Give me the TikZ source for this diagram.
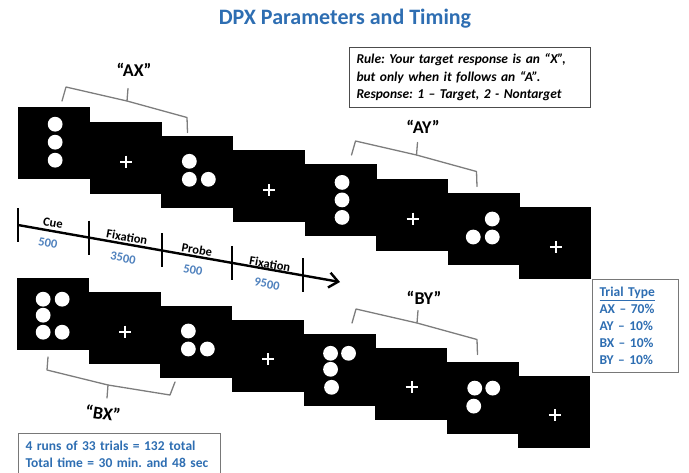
\documentclass[tikz,border=0pt]{standalone}
\usepackage{fontspec}
\setmainfont{Carlito}
\usetikzlibrary{calc,arrows.meta}
\definecolor{tblue}{RGB}{46,110,178}
\definecolor{nblue}{RGB}{79,129,189}
\definecolor{bgray}{RGB}{125,125,125}
\definecolor{boxgray}{RGB}{120,120,120}
\newcommand\fs[2]{\fontsize{#1}{#2}\selectfont}
\newcommand\dotsat[2]{\foreach \a/\b in {#2}{\fill[white] ($(#1.center)+(\a,\b)$) circle[radius=7.4pt];}}
\begin{document}
\frenchspacing
\begin{tikzpicture}[x=1pt,y=-1pt,
  sq/.style={fill=black,draw=none,minimum width=71.9pt,minimum height=72pt,inner sep=0pt,anchor=north west},
  plus/.style={draw=white,line width=2pt},
  brk/.style={draw=bgray,line width=1.3pt,line join=round,line cap=round},
  tl/.style={line width=2.4pt},
  lab/.style={font=\bfseries\fs{12.5}{14},rotate=-10,inner sep=0pt},
  num/.style={lab,text=nblue},
  big/.style={font=\bfseries\fs{18}{20},inner sep=0pt},
  infobox/.style={draw=boxgray,line width=1pt,anchor=north west,align=left,inner xsep=7pt},
  bracketup/.pic={\draw[brk] (-65,0) -- (-61,-14) -- (0,0) -- (60,16.5) -- (60.5,31.5);
                  \draw[brk] (0,0) -- (1,-12.5);},
  bracketdown/.pic={\draw[brk] (-60,-28) -- (-61,-15) -- (0,0) -- (62,10) -- (67,-3);
                  \draw[brk] (0,0) -- (-1,13);}
]
\useasboundingbox (0,0) rectangle (689,472);
\clip (0,0) rectangle (689,472);

% title
\node[font=\bfseries\fs{22}{25},text=tblue,inner sep=0pt] (title) at (345,19) {DPX Parameters and Timing};

% squares
\foreach \i in {1,...,8}{
  \node[sq] (t\i) at ({18+71.6*(\i-1)},{107+14.3*(\i-1)}) {};
  \node[sq] (b\i) at ({17+71.6*(\i-1)},{278+13.9*(\i-1)}) {};
}
\dotsat{t1}{1/-19,1/-1,1/17}
\dotsat{t3}{-8/-10.5,-8/7.5,11/7.5}
\dotsat{t5}{1.5/-18,1.5/-0.5,1.5/17}
\dotsat{t7}{8.5/-10,-10.5/8,8.5/8}
\dotsat{b1}{-10/-15,9/-15,-10/1,-10/18,9/18}
\dotsat{b3}{-8/-11,-8/7,11/7}
\dotsat{b5}{-9/-16.5,9/-16.5,-9/-0.5,-8/17.5}
\dotsat{b7}{-8/-9.5,10/-9.5,-9/8.5}
\foreach \i in {2,4,6,8}{
  \draw[plus] ($(t\i.center)+(-5.5,4)$) -- ++(12,0);
  \draw[plus] ($(t\i.center)+(0.5,-2)$) -- ++(0,12);
  \draw[plus] ($(b\i.center)+(-5.5,3.5)$) -- ++(12,0);
  \draw[plus] ($(b\i.center)+(0.5,-2.5)$) -- ++(0,12);
}

% brackets and labels
\pic at (127,101) {bracketup};
\pic at (416.5,155) {bracketup};
\pic at (417,323) {bracketup};
\pic at (108,385) {bracketdown};
\node[big] (ax) at (134,70) {“AX”};
\node[big] (ay) at (423,127) {“AY”};
\node[big] (by) at (424,298) {“BY”};
\node[big,rotate=-8] (bx) at (103,413) {“BX”};

% timeline
\coordinate (ts) at (18,225);
\coordinate (te) at (340,282);
\draw[tl,-{Straight Barb[length=9pt,width=15pt]}] (ts) -- (te);
\foreach \f/\n in {0/k0,0.2205/k1,0.447/k2,0.6646/k3,0.885/k4}{
  \coordinate (\n) at ($(ts)!\f!(te)$);
  \draw[tl] (\n) ++(0,-17) -- ++(0,34);
}
\node[lab] (l1) at (53,223) {Cue};
\node[num] (n1) at (48,243) {500};
\node[lab] (l2) at (127,237) {Fixation};
\node[num] (n2) at (123,258) {3500};
\node[lab] (l3) at (197,250) {Probe};
\node[num] (n3) at (193,270) {500};
\node[lab] (l4) at (270,264) {Fixation};
\node[num] (n4) at (267,284) {9500};

% boxes
\node[infobox,draw=black!70,minimum width=241pt,minimum height=60pt,text width=227pt,
      font=\bfseries\itshape\fs{13.5}{17.5}] (rule) at (349,47)
  {Rule: Your target response is an “X”,\\but only when it follows an “A”.\\Response: 1 – Target, 2 - Nontarget};
\node[infobox,text=tblue,minimum width=86pt,minimum height=93pt,text width=72pt,
      font=\bfseries\fs{13.5}{17}] (trial) at (592,279)
  {\underline{Trial Type}\\AX – 70\%\\AY – 10\%\\BX – 10\%\\BY – 10\%};
\node[infobox,text=tblue,text width=188pt,inner ysep=8pt,
      font=\bfseries\fs{13.5}{17}] (runs) at (18,433)
  {4 runs of 33 trials = 132 total\\Total time = 30 min. and 48 sec};
\end{tikzpicture}
\end{document}
